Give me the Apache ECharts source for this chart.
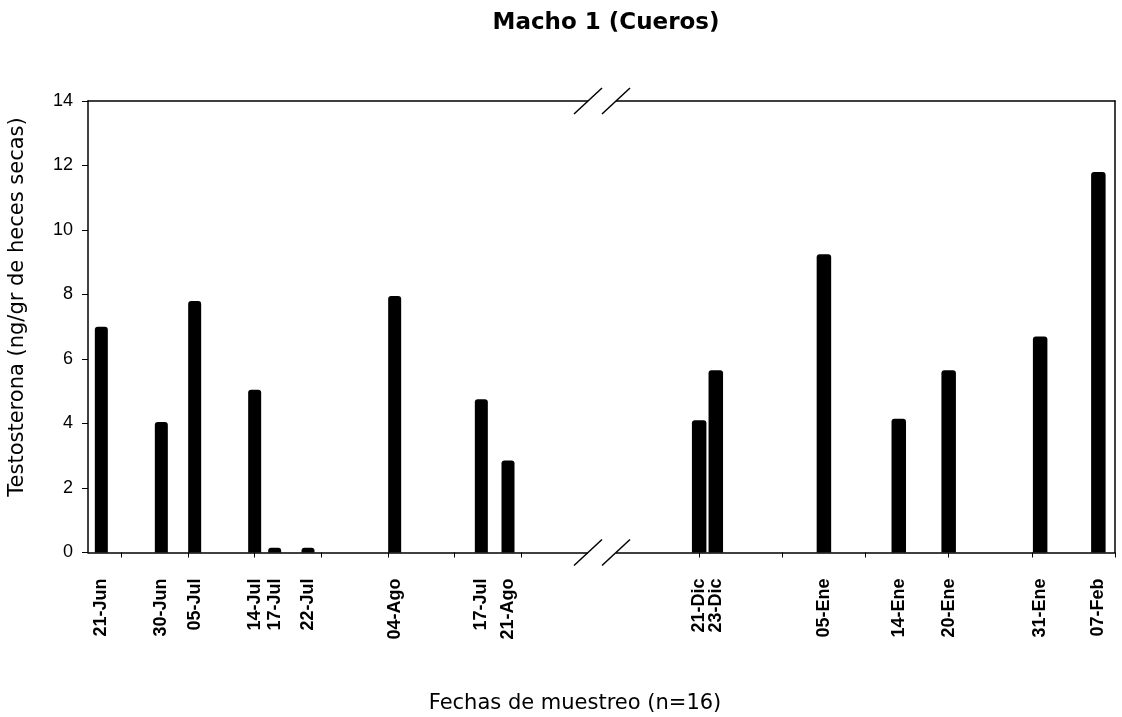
<!DOCTYPE html>
<html>
<head>
<meta charset="utf-8">
<title>Macho 1 (Cueros)</title>
<script src="https://cdn.jsdelivr.net/npm/echarts@6/dist/echarts.min.js"></script>
<style>
  html, body { margin: 0; padding: 0; background: #fff; }
  #chart { width: 1122px; height: 717px; }
</style>
</head>
<body>
<div id="chart"></div>
<script>
// Sampling dates, split in two periods (the year is only used for day arithmetic)
const leftLabels  = ['21-Jun', '30-Jun', '05-Jul', '14-Jul', '17-Jul', '22-Jul', '04-Ago', '17-Jul', '21-Ago'];
const leftDates   = ['2000-06-21', '2000-06-30', '2000-07-05', '2000-07-14', '2000-07-17', '2000-07-22', '2000-08-04', '2000-08-17', '2000-08-21'];
const leftValues  = [7.0, 4.05, 7.8, 5.05, 0.15, 0.15, 7.95, 4.75, 2.85];

const rightLabels = ['21-Dic', '23-Dic', '05-Ene', '14-Ene', '20-Ene', '31-Ene', '07-Feb'];
const rightDates  = ['2000-12-21', '2000-12-23', '2001-01-05', '2001-01-14', '2001-01-20', '2001-01-31', '2001-02-07'];
const rightValues = [4.1, 5.65, 9.25, 4.15, 5.65, 6.7, 11.8];

// Axis ticks (days from the first date of each period)
const leftTicks  = [3, 13, 23, 33, 43, 53, 63];
const rightTicks = [0, 10, 20, 30, 40, 50];
const yTicks = [0, 2, 4, 6, 8, 10, 12, 14];

const DAY = 86400000;
function offsets(dates) {
  const t0 = Date.parse(dates[0]);
  return dates.map(d => Math.round((Date.parse(d) - t0) / DAY));
}
const leftDays = offsets(leftDates);
const rightDays = offsets(rightDates);

// Layout
const TOP = 101, BOTTOM = 552.5;
const L = { left: 88, right: 588, min: -2, max: 73 };
const R = { left: 616, right: 1115, min: -10, max: 50 };
const FONT = '"Liberation Sans", Arial, sans-serif';
const HAND = '"DejaVu Sans", "Noto Sans", sans-serif';

const labelStyle = {
  rotate: 90, margin: 26, hideOverlap: false,
  color: '#000', fontFamily: FONT, fontWeight: 'bold', fontSize: 18
};

// Main bottom axis: line, ticks and every other date label
function bottomAxis(gi, seg, ticks, days, labels, parity) {
  const vals = days.filter((_, i) => i % 2 === parity);
  return {
    type: 'value', gridIndex: gi, position: 'bottom',
    min: seg.min, max: seg.max,
    axisLine: { show: parity === 0, onZero: false, lineStyle: { color: '#000', width: 1.5 } },
    axisTick: { show: parity === 0, length: 5, customValues: ticks, lineStyle: { color: '#000', width: 1 } },
    axisLabel: Object.assign({}, labelStyle, {
      customValues: vals,
      formatter: v => { const i = days.indexOf(v); return i >= 0 ? labels[i] : ''; }
    }),
    splitLine: { show: false }
  };
}
function topAxis(gi, seg) {
  return {
    type: 'value', gridIndex: gi, position: 'top',
    min: seg.min, max: seg.max,
    axisLine: { show: true, onZero: false, lineStyle: { color: '#000', width: 1.5 } },
    axisTick: { show: false }, axisLabel: { show: false }, splitLine: { show: false }
  };
}

const chart = echarts.init(document.getElementById('chart'), null, { renderer: 'canvas' });

// Break marks ("//") where the two periods meet
function slash(x, y) {
  return {
    type: 'line', silent: true, z: 60,
    shape: { x1: x - 14, y1: y + 13, x2: x + 14, y2: y - 13 },
    style: { stroke: '#000', lineWidth: 1.5 }
  };
}
const breakGraphics = [];
[TOP, BOTTOM].forEach(y => {
  breakGraphics.push(slash(L.right, y));
  breakGraphics.push(slash(R.left, y));
});

chart.setOption({
  backgroundColor: '#fff',
  animation: false,
  title: {
    text: 'Macho 1 (Cueros)', left: 601, top: 7, textAlign: 'center',
    textStyle: { fontFamily: HAND, fontWeight: 'bold', fontSize: 23, color: '#000' }
  },
  grid: [
    { left: L.left, top: TOP, width: L.right - L.left, height: BOTTOM - TOP },
    { left: R.left, top: TOP, width: R.right - R.left, height: BOTTOM - TOP }
  ],
  xAxis: [
    bottomAxis(0, L, leftTicks, leftDays, leftLabels, 0),
    bottomAxis(1, R, rightTicks, rightDays, rightLabels, 0),
    topAxis(0, L),
    topAxis(1, R),
    bottomAxis(0, L, leftTicks, leftDays, leftLabels, 1),
    bottomAxis(1, R, rightTicks, rightDays, rightLabels, 1)
  ],
  yAxis: [
    {
      type: 'value', gridIndex: 0, position: 'left', min: 0, max: 14, interval: 2,
      axisLine: { show: true, onZero: false, lineStyle: { color: '#000', width: 1.5 } },
      axisTick: { show: true, length: 6, lineStyle: { color: '#000', width: 1 } },
      axisLabel: { margin: 15, color: '#000', fontFamily: FONT, fontSize: 18,
        customValues: yTicks },
      splitLine: { show: false }
    },
    {
      type: 'value', gridIndex: 1, position: 'right', min: 0, max: 14, interval: 2,
      axisLine: { show: true, onZero: false, lineStyle: { color: '#000', width: 1.5 } },
      axisTick: { show: false }, axisLabel: { show: false }, splitLine: { show: false }
    }
  ],
  series: [
    {
      type: 'bar', xAxisIndex: 0, yAxisIndex: 0, barWidth: 13,
      itemStyle: { color: '#000', borderRadius: [3, 3, 0, 0] },
      data: leftDays.map((d, i) => [d, leftValues[i]])
    },
    {
      type: 'bar', xAxisIndex: 1, yAxisIndex: 1, barWidth: 14.5,
      itemStyle: { color: '#000', borderRadius: [3, 3, 0, 0] },
      data: rightDays.map((d, i) => [d, rightValues[i]])
    }
  ],
  graphic: [
    // white patches hide the frame between the break marks
    { type: 'rect', z: 50, shape: { x: L.right, y: TOP - 2, width: R.left - L.right, height: 4 }, style: { fill: '#fff' } },
    { type: 'rect', z: 50, shape: { x: L.right, y: BOTTOM - 2, width: R.left - L.right, height: 4 }, style: { fill: '#fff' } },
    ...breakGraphics,
    {
      type: 'text', x: 18, y: 307, rotation: Math.PI / 2,
      style: { text: 'Testosterona (ng/gr de heces secas)', fontFamily: HAND, fontSize: 21,
        fill: '#000', textAlign: 'center', textVerticalAlign: 'middle' }
    },
    {
      type: 'text', x: 575, y: 704,
      style: { text: 'Fechas de muestreo (n=16)', fontFamily: HAND, fontSize: 21,
        fill: '#000', textAlign: 'center', textVerticalAlign: 'middle' }
    }
  ]
});
</script>
</body>
</html>
